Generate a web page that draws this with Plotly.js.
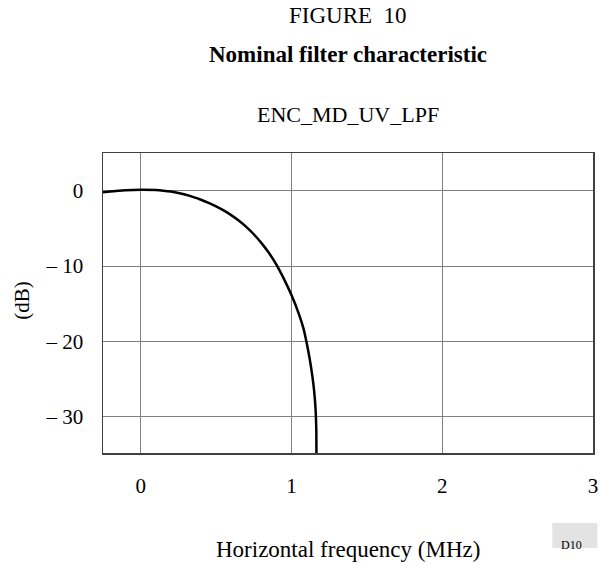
<!DOCTYPE html>
<html>
<head>
<meta charset="utf-8">
<script src="https://cdn.plot.ly/plotly-3.0.1.min.js"></script>
<style>html,body{margin:0;padding:0;background:#fff;}#chart{width:600px;height:564px;}</style>
</head>
<body>
<div id="chart"></div>
<script>
// Data
const freqMHz = [-0.25, -0.2, -0.1, 0.0, 0.1, 0.15, 0.2, 0.25, 0.3, 0.35, 0.4, 0.45, 0.5, 0.55, 0.6, 0.65, 0.7, 0.75, 0.8, 0.85, 0.9, 0.95, 1.0, 1.05, 1.08, 1.1, 1.12, 1.14, 1.15, 1.16, 1.165, 1.167];
const gainDb  = [-0.2, -0.1, 0.05, 0.12, 0.08, 0.0, -0.12, -0.3, -0.55, -0.85, -1.2, -1.61, -2.08, -2.62, -3.24, -3.96, -4.8, -5.78, -6.92, -8.24, -9.8, -11.7, -13.85, -16.4, -18.3, -20.1, -22.2, -24.8, -26.5, -29.0, -32.0, -40.0];
const xTickVals = [0, 1, 2, 3];
const xTickText = ["0", "1", "2", "3"];
const yTickVals = [0, -10, -20, -30];
const yTickText = ["0", "\u2013 10", "\u2013 20", "\u2013 30"];

const serif = "Liberation Serif, Times New Roman, serif";

const trace = {
  x: freqMHz, y: gainDb, type: 'scatter', mode: 'lines',
  line: {color: '#000', width: 2.5, shape: 'spline', smoothing: 0.6}, hoverinfo: 'skip'
};

const layout = {
  width: 600, height: 564,
  margin: {l: 103, r: 6.5, t: 153, b: 111},
  paper_bgcolor: '#fff', plot_bgcolor: '#fff',
  showlegend: false,
  font: {family: serif, color: '#000', size: 21},
  xaxis: {
    range: [-0.25, 3], tickvals: xTickVals, ticktext: xTickText,
    showgrid: true, gridcolor: '#808080', gridwidth: 1,
    zeroline: false, showline: true, mirror: true, linecolor: '#404040', linewidth: 1.5,
    ticks: '', ticklabelstandoff: 13, tickfont: {family: serif, size: 21, color: '#000'}
  },
  yaxis: {
    range: [-34.8, 5], tickvals: yTickVals, ticktext: yTickText,
    showgrid: true, gridcolor: '#808080', gridwidth: 1,
    zeroline: false, showline: true, mirror: true, linecolor: '#404040', linewidth: 1.5,
    ticks: '', ticklabelstandoff: 14, tickfont: {family: serif, size: 21, color: '#000'}
  },
  shapes: [
    {type: 'rect', xref: 'paper', yref: 'paper', x0: 0.917, x1: 1.009, y0: -0.317, y1: -0.233,
     fillcolor: '#e3e3e3', line: {width: 0}, layer: 'below'}
  ],
  annotations: [
    {text: 'FIGURE  10', xref: 'paper', yref: 'paper', x: 0.5, y: 1.46, showarrow: false,
     font: {family: serif, size: 23, color: '#000'}, xanchor: 'center', yanchor: 'middle'},
    {text: '<b>Nominal filter characteristic</b>', xref: 'paper', yref: 'paper', x: 0.5, y: 1.327, showarrow: false,
     font: {family: serif, size: 23, color: '#000'}, xanchor: 'center', yanchor: 'middle'},
    {text: 'ENC_MD_UV_LPF', xref: 'paper', yref: 'paper', x: 0.5, y: 1.127, showarrow: false,
     font: {family: serif, size: 22, color: '#000'}, xanchor: 'center', yanchor: 'middle'},
    {text: 'Horizontal frequency (MHz)', xref: 'paper', yref: 'paper', x: 0.5, y: -0.32, showarrow: false,
     font: {family: serif, size: 23, color: '#000'}, xanchor: 'center', yanchor: 'middle'},
    {text: '(dB)', xref: 'paper', yref: 'paper', x: -0.166, y: 0.51, showarrow: false, textangle: -90,
     font: {family: serif, size: 21, color: '#000'}, xanchor: 'center', yanchor: 'middle'},
    {text: 'D10', xref: 'paper', yref: 'paper', x: 0.956, y: -0.305, showarrow: false,
     font: {family: serif, size: 12, color: '#000'}, xanchor: 'center', yanchor: 'middle'}
  ]
};

Plotly.newPlot('chart', [trace], layout, {displayModeBar: false, staticPlot: true});
</script>
</body>
</html>
